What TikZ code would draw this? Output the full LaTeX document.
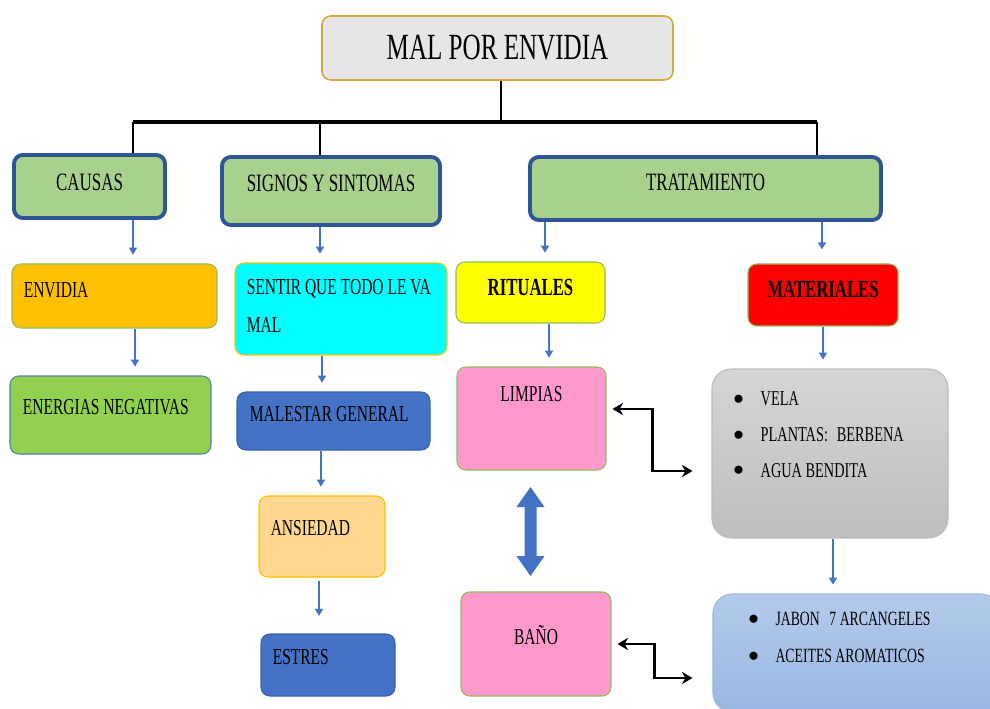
\documentclass[tikz,border=0pt]{standalone}
\usepackage{fontspec}
\setmainfont[FakeStretch=0.68]{Liberation Serif}
\usetikzlibrary{arrows.meta,fit}

\definecolor{titlefill}{HTML}{E7E6E6}
\definecolor{titleline}{HTML}{D4A83F}
\definecolor{headfill}{HTML}{A9D18E}
\definecolor{headline}{HTML}{2F5597}
\definecolor{arrowblue}{HTML}{4472C4}
\definecolor{darkblue}{HTML}{3A62A8}
\definecolor{leafline}{HTML}{8CBF5E}
\definecolor{goldline}{HTML}{FFC000}
\definecolor{envfill}{HTML}{FFC000}
\definecolor{energfill}{HTML}{92D050}
\definecolor{energline}{HTML}{5B7FA8}
\definecolor{sentfill}{HTML}{00FFFF}
\definecolor{ansfill}{HTML}{FFD78E}
\definecolor{ritfill}{HTML}{FFFF00}
\definecolor{pinkfill}{HTML}{FF99CC}
\definecolor{matfill}{HTML}{FF0000}
\definecolor{graytop}{HTML}{D5D5D5}
\definecolor{graybot}{HTML}{BEBEBE}
\definecolor{grayline}{HTML}{BBBBBB}
\definecolor{bluetop}{HTML}{B4CBEA}
\definecolor{bluebot}{HTML}{98B7E1}
\definecolor{blueline}{HTML}{9CB6DE}

\newcommand{\itembul}{\raisebox{0.8pt}{$\bullet$}\hskip 9.5pt}

\begin{document}
\begin{tikzpicture}[x=0.02cm, y=-0.02cm,
    box/.style={draw, rounded corners=5pt, inner sep=0pt, line width=0.6pt},
    head/.style={box, fill=headfill, draw=headline, line width=2.2pt},
    txt/.style={inner sep=0pt, font=\fontsize{13}{15}\selectfont},
    htxt/.style={txt, anchor=center, font=\fontsize{14.2}{16}\selectfont},
    tl/.style={txt, anchor=west},
    down/.style={draw=arrowblue, line width=1.6pt, -{Triangle[length=4pt,width=4.5pt]}, shorten >=5pt},
    tree/.style={line width=1.1pt},
    elbow/.style={line width=1.4pt, {Stealth[length=6pt,width=7pt]}-{Stealth[length=6pt,width=7pt]}}]

\useasboundingbox (0,0) rectangle (990,709);
\clip (0,0) rectangle (990,709);

% title and first level
\node[box, fill=titlefill, draw=titleline, line width=0.9pt, fit={(322,16) (673,80)},
      label={[txt, anchor=center, font=\fontsize{21}{24}\selectfont]center:MAL POR ENVIDIA}] (title) {};

\node[head, fit={(14,155) (165,218)}, label={[htxt, yshift=2.5pt]center:CAUSAS}] (causas) {};
\node[head, fit={(222,157) (440,225)}, label={[htxt, yshift=4.5pt]center:SIGNOS Y SINTOMAS}] (signos) {};
\node[head, fit={(530,157) (881,220)}, label={[htxt, yshift=3.4pt]center:TRATAMIENTO}] (tratamiento) {};

\draw[tree, line width=0.7pt] (501,0 |- title.south) -- (501,122);
\draw[tree, line width=1.8pt] (133,122) -- (817,122);
\draw[tree] (133,122) -- (133,0 |- causas.north);
\draw[tree] (320,122) -- (320,0 |- signos.north);
\draw[tree] (817,122) -- (817,0 |- tratamiento.north);

% causas
\node[box, fill=envfill, draw=leafline, fit={(12,264) (217,328)},
      label={[tl, xshift=6.8pt, yshift=3.4pt]west:ENVIDIA}] (envidia) {};
\node[box, fill=energfill, draw=energline, fit={(10,376) (211,454)},
      label={[tl, xshift=7.4pt, yshift=4.5pt]west:ENERGIAS NEGATIVAS}] (energias) {};

% signos y sintomas
\node[box, fill=sentfill, draw=goldline, fit={(235,263) (447,355)},
      label={[tl, align=left, font=\fontsize{13}{21.5}\selectfont, xshift=6.8pt, yshift=1.7pt]west:{SENTIR QUE TODO LE VA\\MAL}}] (sentir) {};
\node[box, fill=arrowblue, draw=darkblue, fit={(237,392) (430,450)},
      label={[tl, xshift=7.4pt, yshift=4pt]west:MALESTAR GENERAL}] (malestar) {};
\node[box, fill=ansfill, draw=goldline, fit={(259,496) (385,577)},
      label={[tl, xshift=6.8pt, yshift=4.8pt]west:ANSIEDAD}] (ansiedad) {};
\node[box, fill=arrowblue, draw=darkblue, fit={(261,634) (395,696)},
      label={[tl, xshift=6.8pt, yshift=4.5pt]west:ESTRES}] (estres) {};

% tratamiento
\node[box, fill=ritfill, draw=leafline, fit={(456,262) (605,323)},
      label={[htxt, font=\bfseries\fontsize{14}{16}\selectfont, yshift=3pt]center:RITUALES}] (rituales) {};
\node[box, fill=pinkfill, draw=leafline, fit={(457,367) (606,470)},
      label={[htxt, font=\fontsize{13}{15}\selectfont, yshift=13.9pt]center:LIMPIAS}] (limpias) {};
\node[box, fill=pinkfill, draw=leafline, fit={(461,592) (611,696)},
      label={[htxt, font=\fontsize{13}{15}\selectfont, yshift=5pt]center:BAÑO}] (bano) {};
\node[box, fill=matfill, draw=leafline, fit={(748,264) (898,326)},
      label={[htxt, font=\bfseries\fontsize{14}{16}\selectfont, yshift=3.4pt]center:MATERIALES}] (materiales) {};

\node[box, draw=grayline, top color=graytop, bottom color=graybot, rounded corners=11pt, fit={(712,369) (948,538)},
      label={[txt, anchor=north west, align=left, font=\fontsize{12}{20.4}\selectfont, xshift=12.3pt, yshift=-13pt]north west:{%
        \itembul VELA\\
        \itembul PLANTAS:\hskip 5pt BERBENA\\
        \itembul AGUA BENDITA}}] (velas) {};
\node[box, draw=blueline, top color=bluetop, bottom color=bluebot, rounded corners=11pt, fit={(713,594) (1000,712)},
      label={[txt, anchor=north west, align=left, font=\fontsize{11.5}{21}\selectfont, xshift=20.2pt, yshift=-10.5pt]north west:{%
        \itembul JABON\hskip 5.5pt 7 ARCANGELES\\
        \itembul ACEITES AROMATICOS}}] (jabon) {};

% blue arrows
\draw[down] (133,0 |- causas.south) -- (133,0 |- envidia.north);
\draw[down] (135,0 |- envidia.south) -- (135,0 |- energias.north);
\draw[down] (320,0 |- signos.south) -- (320,0 |- sentir.north);
\draw[down] (322,0 |- sentir.south) -- (322,0 |- malestar.north);
\draw[down] (321,0 |- malestar.south) -- (321,0 |- ansiedad.north);
\draw[down, shorten <=2pt, shorten >=10pt] (319,0 |- ansiedad.south) -- (319,0 |- estres.north);
\draw[down] (545,0 |- tratamiento.south) -- (545,0 |- rituales.north);
\draw[down, shorten >=8pt] (822,0 |- tratamiento.south) -- (822,0 |- materiales.north);
\draw[down] (549,0 |- rituales.south) -- (549,0 |- limpias.north);
\draw[down] (823,0 |- materiales.south) -- (823,0 |- velas.north);
\draw[down] (833,0 |- velas.south) -- (833,0 |- jabon.north);

% limpias <-> bano
\begin{scope}[shift={(530.5,531.5)}]
  \fill[arrowblue] (0,-44.5) -- (14,-24.5) -- (6,-24.5) -- (6,24.5) -- (14,24.5) -- (0,44.5)
        -- (-14,24.5) -- (-6,24.5) -- (-6,-24.5) -- (-14,-24.5) -- cycle;
\end{scope}

% black elbow arrows
\draw[elbow] ([shift={(6,-9.5)}]limpias.east) -- ++(40,0) |- ([shift={(-19,17.5)}]velas.west);
\draw[elbow] ([shift={(6,0)}]bano.east) -- ++(37,0) |- ([shift={(-20,25)}]jabon.west);

\end{tikzpicture}
\end{document}
